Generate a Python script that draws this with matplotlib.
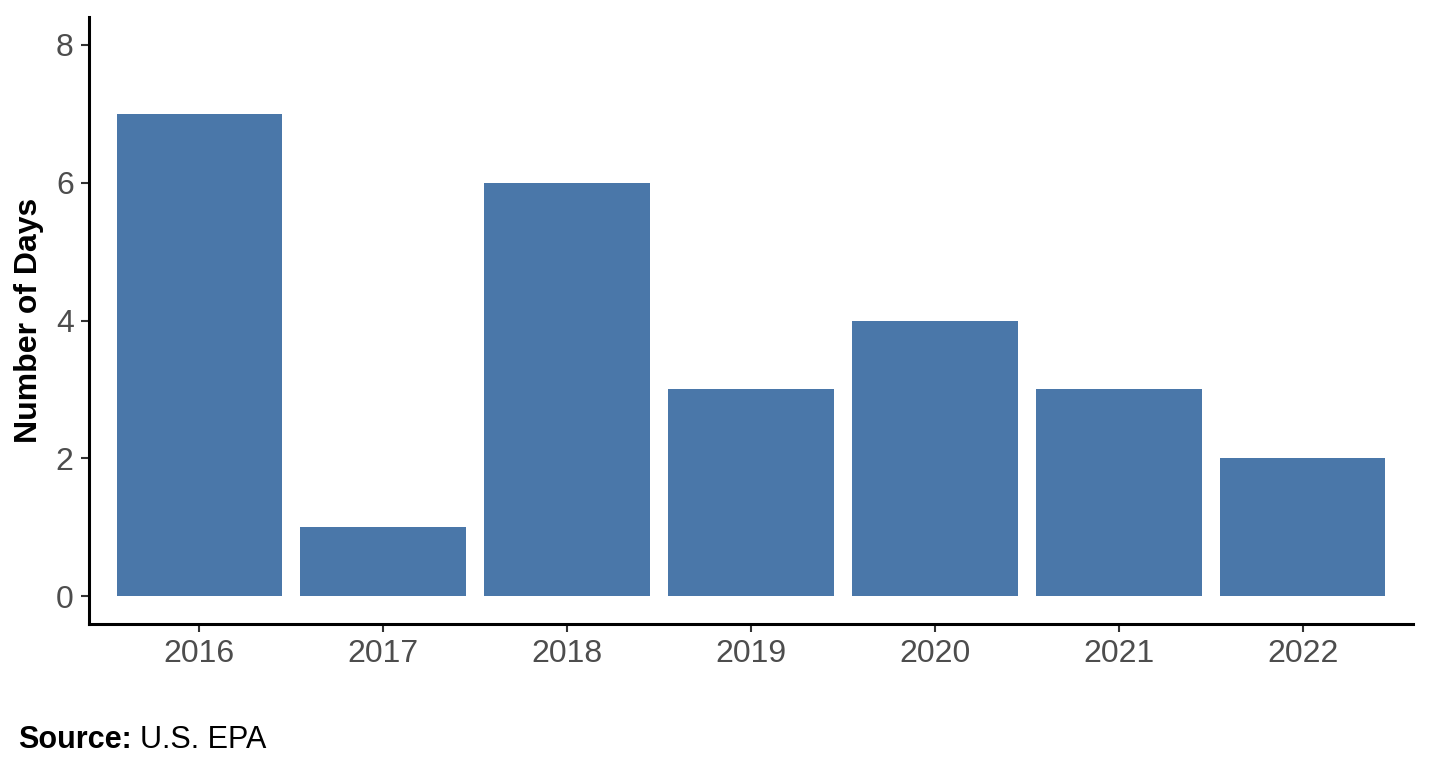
import matplotlib
matplotlib.use("Agg")
import matplotlib.pyplot as plt

years = ["2016", "2017", "2018", "2019", "2020", "2021", "2022"]
days = [7, 1, 6, 3, 4, 3, 2]
y_ticks = [0, 2, 4, 6, 8]

plt.rcParams['font.family'] = ['Liberation Sans', 'DejaVu Sans']

fig = plt.figure(figsize=(14.3, 7.7), dpi=100)
ax = fig.add_axes([89/1430, (770-624)/770, (1413-89)/1430, (624-17)/770])

x = list(range(len(years)))
ax.bar(x, days, width=0.9, color="#4A77A9")
ax.set_xlim(-0.6, len(years) - 0.4)
ax.set_ylim(-0.4, 8.4)
ax.set_xticks(x)
ax.set_xticklabels(years)
ax.set_yticks(y_ticks)
ax.tick_params(axis='both', labelsize=23, labelcolor="#4D4D4D", color="#333333",
               length=6, width=1.5)
ax.tick_params(axis='x', pad=5)
ax.tick_params(axis='y', pad=5)
for s in ["top", "right"]:
    ax.spines[s].set_visible(False)
for s in ["left", "bottom"]:
    ax.spines[s].set_linewidth(2.2)
    ax.spines[s].set_color("black")
ax.set_ylabel("Number of Days", fontsize=23, fontweight="bold")
ax.yaxis.set_label_coords(-0.034, 0.5)

fig.text(18/1430, 1 - 740/770, "Source:", fontsize=22, fontweight="bold", va="center", ha="left")
fig.text(140/1430, 1 - 740/770, "U.S. EPA", fontsize=22, va="center", ha="left")

fig.savefig("out.png", dpi=100)
